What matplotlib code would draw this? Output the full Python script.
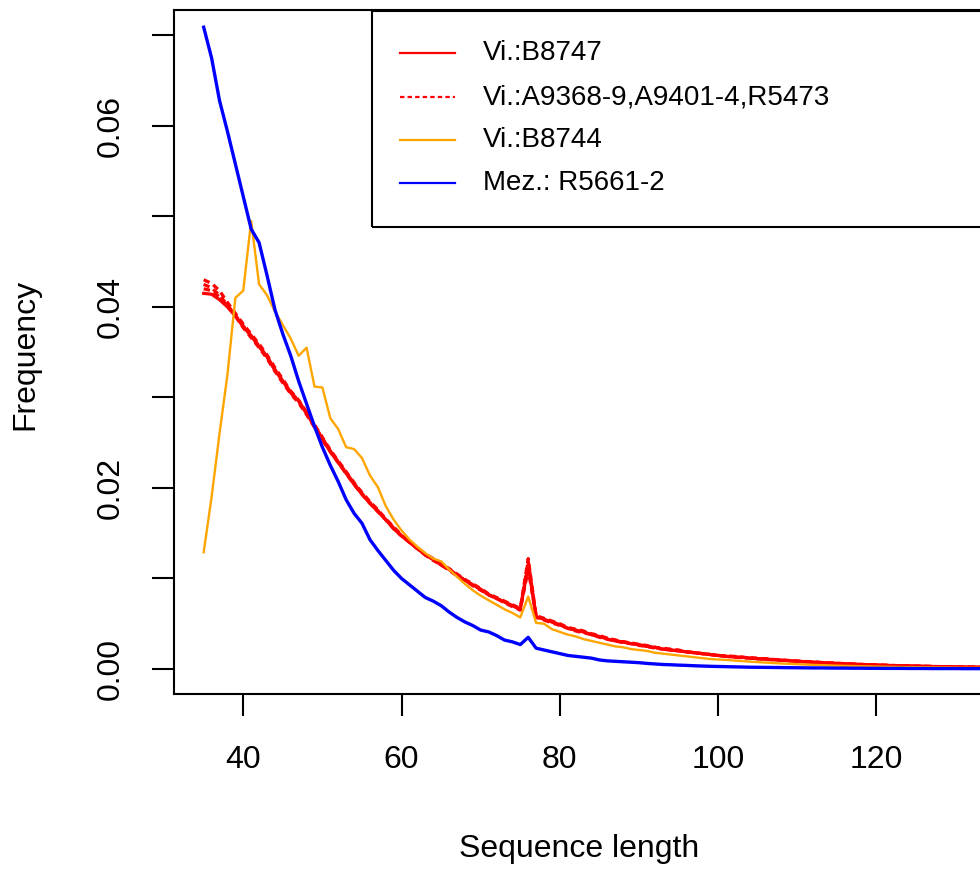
import matplotlib
matplotlib.use("Agg")
import matplotlib.pyplot as plt
from matplotlib.patches import Rectangle
from matplotlib.lines import Line2D

plt.rcParams['font.family'] = ['Liberation Sans', 'DejaVu Sans']

# sequence lengths 35..135
lengths = list(range(35, 136))

# Vi.:B8747 (solid red)
b8747 = [
    .0415, .0414, .0408, .0400, .0390, .0378, .0368, .0356, .0345, .0330,
    .0318, .0305, .0296, .0282, .0268, .0254, .0240, .0228, .0216, .0204,
    .0193, .0183, .0174, .0165, .0155, .0147, .0140, .0133, .0126, .0121,
    .0115, .0110, .0104, .0098, .0093, .0088, .0082, .0078, .0074, .0070,
    .0066, .0114, .0058, .0055, .0052, .0049, .0045, .0043, .0041, .0038,
    .0036, .0033, .0031, .0030, .0028, .0027, .0025, .0024, .0022, .0021,
    .0020, .0019, .0018, .0017, .0016, .0015, .0014, .00135, .0013, .0012,
    .00115, .0011, .00104, .00098, .00092, .00086, .00081, .00076, .00071, .00066,
    .00062, .00058, .00054, .00050, .00047, .00044, .00041, .00038, .00036, .00034,
    .00032, .00030, .00028, .00026, .00024, .00023, .00022, .00021, .0002, .00019,
    .00018,
]

# Vi.:A9368-9, A9401-4, R5473 (dashed red)
a9368 = [
    .0430, .0426, .0418, .0405, .0393, .0381, .0370, .0359, .0347, .0333,
    .0320, .0307, .0297, .0284, .0270, .0256, .0242, .0230, .0218, .0206,
    .0195, .0185, .0176, .0166, .0157, .0148, .0141, .0134, .0127, .0122,
    .0116, .0111, .0105, .0099, .0094, .0089, .0083, .0079, .0075, .0071,
    .0067, .0122, .0059, .0056, .0053, .0050, .0046, .0044, .0042, .0039,
    .0037, .0034, .0032, .0030, .0029, .0027, .0026, .0024, .0023, .0022,
    .0021, .0019, .0018, .0017, .0016, .0015, .00145, .0014, .0013, .00125,
    .0012, .00113, .00106, .001, .00094, .00088, .00083, .00078, .00073, .00068,
    .00064, .0006, .00056, .00052, .00049, .00046, .00043, .0004, .00037, .00035,
    .00033, .00031, .00029, .00027, .00025, .00024, .00023, .00022, .00021, .0002,
    .00019,
]
a9401 = [
    .0425, .0421, .0413, .0402, .0391, .0379, .0368, .0357, .0345, .0331,
    .0318, .0306, .0296, .0283, .0269, .0255, .0241, .0229, .0217, .0205,
    .0194, .0184, .0175, .0165, .0156, .0147, .0140, .0133, .0126, .0121,
    .0115, .0110, .0104, .0098, .0093, .0088, .0082, .0078, .0074, .0070,
    .0066, .0110, .0058, .0055, .0052, .0049, .0045, .0043, .0041, .0038,
    .0036, .0034, .0032, .0030, .0028, .0027, .0025, .0024, .0022, .0021,
    .0020, .0019, .0018, .0017, .0016, .0015, .0014, .00135, .0013, .0012,
    .00115, .0011, .00104, .00098, .00092, .00086, .00081, .00076, .00071, .00066,
    .00062, .00058, .00054, .0005, .00047, .00044, .00041, .00038, .00036, .00034,
    .00032, .0003, .00028, .00026, .00024, .00023, .00022, .00021, .0002, .00019,
    .00018,
]
r5473 = [
    .0420, .0418, .0411, .0401, .0390, .0377, .0366, .0355, .0343, .0329,
    .0316, .0304, .0294, .0281, .0267, .0253, .0240, .0228, .0216, .0204,
    .0193, .0183, .0174, .0165, .0155, .0147, .0140, .0133, .0126, .0120,
    .0115, .0109, .0103, .0098, .0092, .0087, .0082, .0078, .0073, .0069,
    .0065, .0120, .0057, .0054, .0051, .0048, .0045, .0042, .0040, .0038,
    .0035, .0033, .0031, .0029, .0028, .0026, .0025, .0023, .0022, .0021,
    .0020, .0019, .0018, .0017, .0016, .0015, .0014, .0013, .00125, .0012,
    .00112, .00106, .001, .00095, .0009, .00084, .00079, .00074, .0007, .00065,
    .00061, .00057, .00053, .0005, .00046, .00043, .0004, .00038, .00035, .00033,
    .00031, .00029, .00027, .00026, .00024, .00022, .00021, .0002, .00019, .00018,
    .00017,
]

# Vi.:B8744 (orange)
b8744 = [
    .0129, .0190, .0260, .0325, .0410, .0418, .0495, .0425, .0413, .0395,
    .0380, .0365, .0346, .0355, .0312, .0311, .0277, .0265, .0245, .0243,
    .0233, .0214, .0201, .0180, .0165, .0153, .0143, .0135, .0128, .0122,
    .0119, .0110, .0102, .0094, .0087, .0081, .0076, .0071, .0066, .0062,
    .0057, .0080, .0051, .0050, .0044, .0041, .0038, .0036, .0033, .0031,
    .0029, .0027, .0025, .0024, .0022, .0021, .0020, .0018, .0017, .0016,
    .0015, .0014, .0013, .0012, .0011, .00105, .0010, .00094, .00088, .00082,
    .00076, .00071, .00066, .00061, .00057, .00053, .00049, .00046, .00043, .0004,
    .00037, .00035, .00033, .00031, .00029, .00027, .00025, .00024, .00022, .00021,
    .0002, .00019, .00018, .00017, .00016, .00015, .00014, .00013, .00013, .00012,
    .00012,
]

# Mez.: R5661-2 (blue)
r5661 = [
    .0709, .0675, .0628, .0594, .0558, .0522, .0486, .0471, .0435, .0397,
    .0370, .0346, .0318, .0293, .0268, .0245, .0225, .0207, .0187, .0172,
    .0161, .0143, .0131, .0120, .0109, .0100, .0093, .0086, .0079, .0075,
    .0070, .0063, .0057, .0052, .0048, .0043, .0041, .0037, .0032, .0030,
    .0027, .0035, .0023, .0021, .0019, .0017, .0015, .0014, .0013, .0012,
    .0010, .0009, .00085, .0008, .00075, .0007, .00062, .00056, .0005, .00047,
    .00043, .0004, .00036, .00033, .0003, .00028, .00026, .00024, .00022, .0002,
    .00019, .00018, .00017, .00016, .00015, .00014, .00013, .00012, .00012, .00011,
    .0001, .0001, .00009, .00009, .00008, .00008, .00007, .00007, .00007, .00006,
    .00006, .00006, .00005, .00005, .00005, .00005, .00004, .00004, .00004, .00004,
    .00004,
]

labels = ['Vi.:B8747', 'Vi.:A9368-9,A9401-4,R5473', 'Vi.:B8744', 'Mez.: R5661-2']
colors = ['#FF0000', '#FF0000', '#FFA500', '#0000FF']

W, H = 980, 872
fig = plt.figure(figsize=(W / 100, H / 100), dpi=100)
# axes box in pixel coords (right edge runs past the image)
left, right, top, bottom = 173.6, 985.7, 10, 694
ax = fig.add_axes([left / W, 1 - bottom / H, (right - left) / W, (bottom - top) / H])

ax.plot(lengths, b8747, color=colors[0], lw=2.3)
for s in (a9368, a9401, r5473):
    ax.plot(lengths, s, color=colors[1], lw=2.3, dashes=(2.0, 1.4))
ax.plot(lengths, b8744, color=colors[2], lw=1.7)
ax.plot(lengths, r5661, color=colors[3], lw=2.4)

ax.set_xlim(31.2, 133.8)
ax.set_ylim(-0.00276, 0.0728)

ax.set_xticks([40, 60, 80, 100, 120])
ax.set_xticklabels(['40', '60', '80', '100', '120'])
yt = [0.0, 0.01, 0.02, 0.03, 0.04, 0.05, 0.06, 0.07]
ax.set_yticks(yt)
ax.set_yticklabels(['0.00', '', '0.02', '', '0.04', '', '0.06', ''], rotation=90, va='center')

ax.tick_params(axis='both', length=15.6, width=1.5, labelsize=23, direction='out')
ax.tick_params(axis='x', pad=21)
ax.tick_params(axis='y', pad=19)
for sp in ax.spines.values():
    sp.set_linewidth(1.5)

fig.text(579.6 / W, 1 - 849 / H, 'Sequence length', ha='center', va='center', fontsize=23)
fig.text(25 / W, 1 - 354 / H, 'Frequency', ha='center', va='center', rotation=90, fontsize=23)

# legend box drawn by hand
def fx(px):
    return px / W

def fy(py):
    return 1 - py / H

fig.patches.append(Rectangle((fx(372), fy(227)), fx(1010) - fx(372), fy(11) - fy(227),
                             transform=fig.transFigure, fill=False, edgecolor='black',
                             lw=1.5, zorder=5))
rows = [53, 97, 140, 183]
for i, (lab, c) in enumerate(zip(labels, colors)):
    ls = (0, (2.0, 1.4)) if i == 1 else '-'
    fig.lines.append(Line2D([fx(400), fx(455)], [fy(rows[i])] * 2, transform=fig.transFigure,
                            color=c, lw=1.6, linestyle=ls))
    fig.text(fx(483), fy(rows[i]), lab, ha='left', va='center', fontsize=20)

plt.savefig('out.png', dpi=100)
